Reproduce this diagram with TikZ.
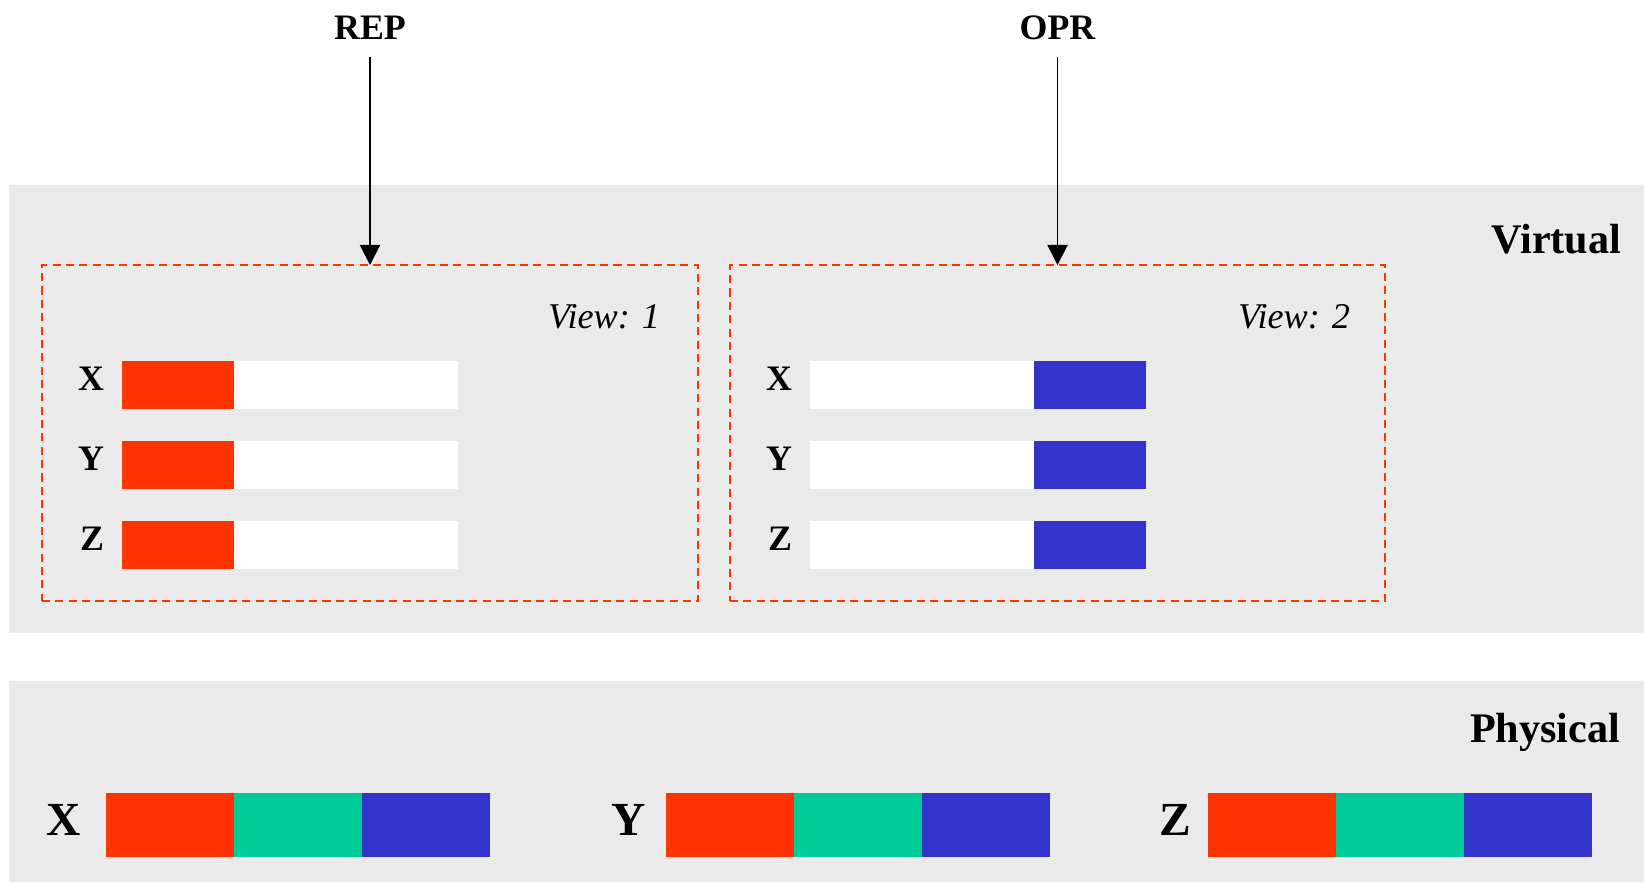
\documentclass[tikz,border=0pt]{standalone}
\usepackage{fontspec}
\setmainfont{Liberation Serif}
\usetikzlibrary{arrows.meta,positioning}

\definecolor{repred}{HTML}{FF3300}
\definecolor{oprblue}{HTML}{3333CC}
\definecolor{midgreen}{HTML}{00CC99}
\definecolor{band}{HTML}{EAEAEA}

\begin{document}
\begin{tikzpicture}[x=0.1mm,y=-0.1mm,node distance=0pt,inner sep=0pt,outer sep=0pt]
  \tikzstyle{cell}=[rectangle,minimum width=11.2mm,minimum height=4.8mm,anchor=north west]
  \tikzstyle{pcell}=[rectangle,minimum width=12.8mm,minimum height=6.4mm,anchor=north west]
  \tikzstyle{view}=[draw=repred,dash pattern=on 2.3pt off 1.5pt,line width=0.7pt,minimum height=33.6mm]
  \tikzstyle{small}=[font=\fontsize{10.2}{12}\selectfont\bfseries]
  \tikzstyle{big}=[font=\fontsize{12}{14}\selectfont\bfseries]
  \tikzstyle{huge}=[font=\fontsize{13.5}{16}\selectfont\bfseries]
  \tikzstyle{title}=[font=\fontsize{10.3}{12}\selectfont\itshape,anchor=base east]
  \tikzstyle{arr}=[-{Triangle[length=5.7pt,width=5.7pt]},line width=0.55pt,shorten <=5pt]

  \useasboundingbox (0,0) rectangle (1644,882);

  % grey bands
  \fill[band] (9,185) rectangle (1644,633);
  \fill[band] (9,681) rectangle (1644,882);

  \node[big,anchor=base east] (virtual)  at (1621,253) {Virtual};
  \node[big,anchor=base east] (physical) at (1620,742) {Physical};

  % the two views
  \node[view,minimum width=65.6mm] (view1) at (370,433) {};
  \node[view,minimum width=65.5mm] (view2) at (1057.5,433) {};
  \node[title] (v1title) at (660,328) {View: 1};
  \node[title] (v2title) at (1350,328) {View: 2};

  \foreach \n/\y in {X/361,Y/441,Z/521}{
    \node[cell,fill=repred] (v1\n a) at (122,\y) {};
    \node[cell,fill=white,minimum width=22.4mm,right=of v1\n a] (v1\n b) {};
    \node[small,left=5.1pt of v1\n a,yshift=1.8pt] (v1\n) {\n};

    \node[cell,fill=white,minimum width=22.4mm] (v2\n a) at (810,\y) {};
    \node[cell,fill=oprblue,minimum width=11.2mm,right=of v2\n a] (v2\n b) {};
    \node[small,left=5.1pt of v2\n a,yshift=1.8pt] (v2\n) {\n};
  }

  % physical storage
  \foreach \n/\x/\gap in {X/106/7.2pt,Y/666/5.7pt,Z/1208/4.8pt}{
    \node[pcell,fill=repred] (p\n a) at (\x,793) {};
    \node[pcell,fill=midgreen,right=of p\n a] (p\n b) {};
    \node[pcell,fill=oprblue,right=of p\n b] (p\n c) {};
    \node[huge,left=\gap of p\n a,yshift=1.4pt] (p\n) {\n};
  }

  \node[small,anchor=base] (rep) at (370,39) {REP};
  \node[small,anchor=base] (opr) at (1057.5,39) {OPR};
  \draw[arr] (rep) -- (view1.north);
  \draw[arr] (opr) -- (view2.north);
\end{tikzpicture}
\end{document}
